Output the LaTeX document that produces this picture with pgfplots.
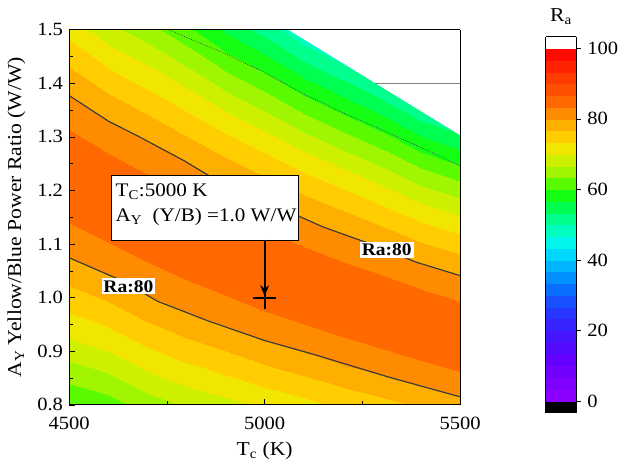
\documentclass[border=0pt]{standalone}
\usepackage{fontspec}
\setmainfont{Liberation Serif}[FakeStretch=1.1]
\usepackage{pgfplots}
\pgfplotsset{compat=1.18}
\usetikzlibrary{arrows.meta}
\pgfplotsset{colormap={ra}{
rgb255=(0,0,0) rgb255=(140,0,255) rgb255=(128,0,255) rgb255=(115,0,255)
rgb255=(100,0,255) rgb255=(85,10,255) rgb255=(70,20,255) rgb255=(55,35,255)
rgb255=(40,55,255) rgb255=(25,80,255) rgb255=(10,110,255) rgb255=(0,145,255)
rgb255=(0,180,255) rgb255=(0,215,255) rgb255=(0,245,235) rgb255=(0,255,190)
rgb255=(0,255,140) rgb255=(0,255,80) rgb255=(20,255,20) rgb255=(90,250,0)
rgb255=(160,245,0) rgb255=(205,240,0) rgb255=(240,230,0) rgb255=(255,205,0)
rgb255=(255,175,0) rgb255=(255,140,0) rgb255=(255,105,0) rgb255=(255,80,0)
rgb255=(255,60,0) rgb255=(255,35,0) rgb255=(255,10,0) rgb255=(255,255,255)}}
\definecolor{cline}{RGB}{58,58,58}
\newcommand{\bigf}{\fontsize{18}{21}\selectfont}
\newcommand{\tickf}{\fontsize{19}{22}\selectfont}
\newcommand{\labf}{\fontsize{20}{23}\selectfont}
\begin{document}
\bigf
\begin{tikzpicture}
\begin{axis}[name=main, scale only axis, width=396bp, height=380bp,
  font=\bigf,
  tick label style={font=\tickf}, label style={font=\labf},
  view={0}{90},
  xmin=4500, xmax=5500, ymin=0.8, ymax=1.5, enlargelimits=false,
  xtick={4500,5000,5500}, minor xtick={4750,5250},
  ytick={0.8,0.9,1.0,1.1,1.2,1.3,1.4,1.5}, minor y tick num=1,
  tick align=inside, tick pos=left,
  major tick length=6bp, minor tick length=3.5bp,
  tick style={black, line width=0.6bp},
  axis line style={black, line width=0.8bp},
  /pgf/number format/assume math mode=true,
  xticklabel style={/pgf/number format/1000 sep={}, yshift=-6bp},
  yticklabel style={/pgf/number format/.cd, fixed, fixed zerofill, precision=1},
  xlabel={T\textsubscript{c} (K)},
  ylabel={A\textsubscript{Y} Yellow/Blue Power Ratio (W/W)},
  colormap name=ra, colormap access=piecewise constant,
  point meta min=-3.333333, point meta max=103.333333,
  axis on top,
  colorbar,
  colorbar style={name=cbar, scale only axis, width=31bp, height=381bp,
    font=\tickf, tick label style={font=\tickf},
    at={(parent axis.north east)}, anchor=north west, xshift=78bp, yshift=-7bp,
    ytick={0,20,40,60,80,100}, minor y tick num=0,
    tick align=outside, ytick pos=right, yticklabel pos=right,
    major tick length=5bp,
    /pgf/number format/assume math mode=true,
    axis line style={black, line width=0.6bp},
    title={R\textsubscript{a}}, title style={font=\labf}},
]
\addplot3[surf, shader=interp, mesh/cols=19] table {
x y z
4500 0.6962 51.23
4500 0.7719 57.85
4500 0.8475 64.11
4500 0.9232 69.93
4500 0.9988 75.26
4500 1.0745 80
4500 1.1502 83.95
4500 1.2258 86.5
4500 1.3015 83.95
4500 1.3771 80
4500 1.4528 75.26
4500 1.5284 69.93
4500 1.6041 64.11
4500 1.6797 57.85
4500 1.7554 51.23
4500 1.8310 44.26
4500 1.9067 36.98
4500 1.9823 29.42
4500 2.0580 21.58
4600 0.6842 51.23
4600 0.7560 57.85
4600 0.8277 64.11
4600 0.8995 69.93
4600 0.9712 75.26
4600 1.0430 80
4600 1.1148 83.95
4600 1.1865 86.5
4600 1.2583 83.95
4600 1.3300 80
4600 1.4018 75.26
4600 1.4735 69.93
4600 1.5453 64.11
4600 1.6170 57.85
4600 1.6888 51.23
4600 1.7605 44.26
4600 1.8323 36.98
4600 1.9040 29.42
4600 1.9758 21.58
4700 0.6462 51.23
4700 0.7180 57.85
4700 0.7897 64.11
4700 0.8615 69.93
4700 0.9332 75.26
4700 1.0050 80
4700 1.0768 83.95
4700 1.1485 86.5
4700 1.2203 83.95
4700 1.2920 80
4700 1.3638 75.26
4700 1.4355 69.93
4700 1.5073 64.11
4700 1.5790 57.85
4700 1.6508 51.23
4700 1.7225 44.26
4700 1.7943 36.98
4700 1.8660 29.42
4700 1.9378 21.58
4800 0.6240 51.23
4800 0.6939 57.85
4800 0.7638 64.11
4800 0.8337 69.93
4800 0.9036 75.26
4800 0.9735 80
4800 1.0434 83.95
4800 1.1133 86.5
4800 1.1832 83.95
4800 1.2531 80
4800 1.3230 75.26
4800 1.3929 69.93
4800 1.4628 64.11
4800 1.5327 57.85
4800 1.6026 51.23
4800 1.6725 44.26
4800 1.7424 36.98
4800 1.8123 29.42
4800 1.8822 21.58
4900 0.6133 51.23
4900 0.6800 57.85
4900 0.7468 64.11
4900 0.8135 69.93
4900 0.8803 75.26
4900 0.9470 80
4900 1.0138 83.95
4900 1.0805 86.5
4900 1.1473 83.95
4900 1.2140 80
4900 1.2808 75.26
4900 1.3475 69.93
4900 1.4143 64.11
4900 1.4810 57.85
4900 1.5478 51.23
4900 1.6145 44.26
4900 1.6813 36.98
4900 1.7480 29.42
4900 1.8148 21.58
5000 0.5938 51.23
5000 0.6590 57.85
5000 0.7243 64.11
5000 0.7895 69.93
5000 0.8548 75.26
5000 0.9200 80
5000 0.9853 83.95
5000 1.0505 86.5
5000 1.1158 83.95
5000 1.1810 80
5000 1.2463 75.26
5000 1.3115 69.93
5000 1.3768 64.11
5000 1.4420 57.85
5000 1.5073 51.23
5000 1.5725 44.26
5000 1.6378 36.98
5000 1.7030 29.42
5000 1.7683 21.58
5100 0.5855 51.23
5100 0.6480 57.85
5100 0.7105 64.11
5100 0.7730 69.93
5100 0.8355 75.26
5100 0.8980 80
5100 0.9605 83.95
5100 1.0230 86.5
5100 1.0855 83.95
5100 1.1480 80
5100 1.2105 75.26
5100 1.2730 69.93
5100 1.3355 64.11
5100 1.3980 57.85
5100 1.4605 51.23
5100 1.5230 44.26
5100 1.5855 36.98
5100 1.6480 29.42
5100 1.7105 21.58
5200 0.5700 51.23
5200 0.6310 57.85
5200 0.6920 64.11
5200 0.7530 69.93
5200 0.8140 75.26
5200 0.8750 80
5200 0.9360 83.95
5200 0.9970 86.5
5200 1.0580 83.95
5200 1.1190 80
5200 1.1800 75.26
5200 1.2410 69.93
5200 1.3020 64.11
5200 1.3630 57.85
5200 1.4240 51.23
5200 1.4850 44.26
5200 1.5460 36.98
5200 1.6070 29.42
5200 1.6680 21.58
5300 0.5588 51.23
5300 0.6180 57.85
5300 0.6773 64.11
5300 0.7365 69.93
5300 0.7958 75.26
5300 0.8550 80
5300 0.9143 83.95
5300 0.9735 86.5
5300 1.0328 83.95
5300 1.0920 80
5300 1.1513 75.26
5300 1.2105 69.93
5300 1.2698 64.11
5300 1.3290 57.85
5300 1.3883 51.23
5300 1.4475 44.26
5300 1.5068 36.98
5300 1.5660 29.42
5300 1.6253 21.58
5400 0.5500 51.23
5400 0.6070 57.85
5400 0.6640 64.11
5400 0.7210 69.93
5400 0.7780 75.26
5400 0.8350 80
5400 0.8920 83.95
5400 0.9490 86.5
5400 1.0060 83.95
5400 1.0630 80
5400 1.1200 75.26
5400 1.1770 69.93
5400 1.2340 64.11
5400 1.2910 57.85
5400 1.3480 51.23
5400 1.4050 44.26
5400 1.4620 36.98
5400 1.5190 29.42
5400 1.5760 21.58
5500 0.5325 51.23
5500 0.5890 57.85
5500 0.6455 64.11
5500 0.7020 69.93
5500 0.7585 75.26
5500 0.8150 80
5500 0.8715 83.95
5500 0.9280 86.5
5500 0.9845 83.95
5500 1.0410 80
5500 1.0975 75.26
5500 1.1540 69.93
5500 1.2105 64.11
5500 1.2670 57.85
5500 1.3235 51.23
5500 1.3800 44.26
5500 1.4365 36.98
5500 1.4930 29.42
5500 1.5495 21.58
};
% empty (no data) region
\addplot[draw=none, fill=white] coordinates {(5060,1.5) (5500,1.303) (5500,1.5)} -- cycle;
\addplot[gray, line width=0.7bp] coordinates {(5283,1.4) (5500,1.4)};
% dotted contour
\addplot[cline, line width=0.6bp, dash pattern=on 1bp off 1.5bp] coordinates {
(4753,1.5) (4900,1.455) (5000,1.42) (5100,1.38) (5200,1.345) (5283,1.319) (5400,1.28) (5500,1.246)};
% Ra = 80 contours
\addplot[cline, line width=1.2bp] coordinates {
(4500,1.377) (4601,1.329) (4677,1.301) (4795,1.255) (4854,1.229) (5081,1.154) (5149,1.132) (5313,1.089) (5384,1.067) (5500,1.041)};
\addplot[cline, line width=1.2bp] coordinates {
(4500,1.0745) (4640,1.03) (4727,0.993) (4854,0.957) (5000,0.920) (5131,0.893) (5316,0.852) (5500,0.815)};
% marker
\addplot[only marks, mark=+, mark size=11.5bp, line width=2.2bp, black] coordinates {(5000,1.0)};
% annotation box
\draw[black, line width=0.8bp, fill=white] (axis cs:4608.6,1.2274) rectangle (axis cs:5085.9,1.1076);
\node[anchor=base west, inner sep=0pt, font=\fontsize{19.5}{22}\selectfont] at (axis cs:4618.7,1.1887) {T\textsubscript{C}:5000 K};
\node[anchor=base west, inner sep=0pt, font=\fontsize{19.5}{22}\selectfont] at (axis cs:4618.7,1.1426) {A\textsubscript{Y}\ \ (Y/B) =1.0 W/W};
\draw[black, line width=1.8bp, -{Stealth[length=11bp, width=9bp]}] (axis cs:5000,1.1076) -- (axis cs:5000,1.003);
% labels
\node[fill=white, inner sep=2bp, font={\bigf\bfseries}] at (axis cs:4651.5,1.021) {Ra:80};
\node[fill=white, inner sep=2bp, font={\bigf\bfseries}] at (axis cs:5312,1.0892) {Ra:80};
\end{axis}
\path ([xshift=-70bp,yshift=-57bp]main.south west) rectangle ([xshift=158bp,yshift=30bp]main.north east);
\end{tikzpicture}
\end{document}
